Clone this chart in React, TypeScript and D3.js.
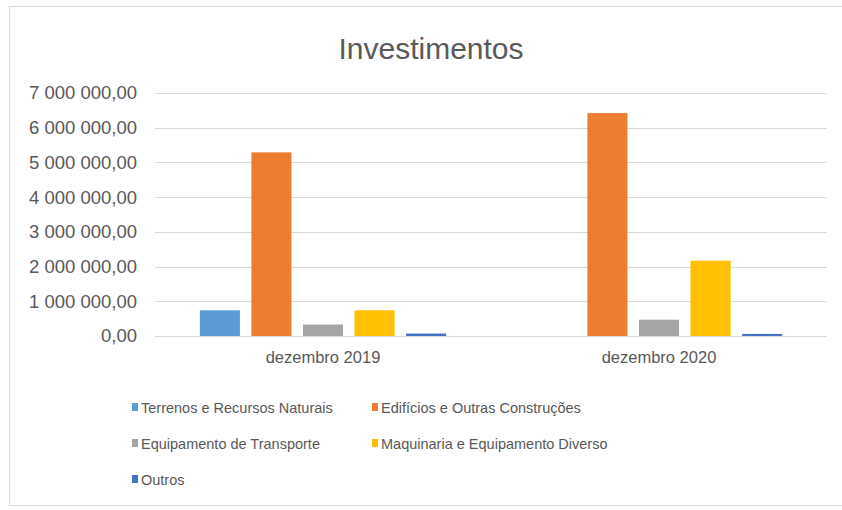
import React, { useRef, useEffect } from 'react';
import * as d3 from 'd3';

const categories = ['dezembro 2019', 'dezembro 2020'];
const seriesNames = [
  'Terrenos e Recursos Naturais',
  'Edifícios e Outras Construções',
  'Equipamento de Transporte',
  'Maquinaria e Equipamento Diverso',
  'Outros',
];
const seriesColors = ['#5B9BD5', '#ED7D31', '#A5A5A5', '#FFC000', '#4472C4'];
// values per series, one per category
const terrenos = [740000, 0];
const edificios = [5290000, 6420000];
const transporte = [330000, 470000];
const maquinaria = [740000, 2170000];
const outros = [70000, 60000];
const yTicks = [0, 1000000, 2000000, 3000000, 4000000, 5000000, 6000000, 7000000];

const FONT = '"Liberation Sans", sans-serif';

const App: React.FC = () => {
  const svgRef = useRef<SVGSVGElement | null>(null);

  useEffect(() => {
    if (!svgRef.current) return;
    const width = 842;
    const height = 510;
    const svg = d3.select(svgRef.current);
    svg.selectAll('*').remove();

    const values = [terrenos, edificios, transporte, maquinaria, outros];
    const margin = { top: 93, right: 15, bottom: 174, left: 155 };
    const innerWidth = width - margin.left - margin.right;
    const innerHeight = height - margin.top - margin.bottom;

    // frame
    svg.append('rect')
      .attr('x', 9.5).attr('y', 6.5)
      .attr('width', 840).attr('height', 499)
      .attr('fill', '#fff')
      .attr('stroke', '#D9D9D9');

    const x0 = d3.scaleBand().domain(categories).range([0, innerWidth]).padding(0);
    const x1 = d3.scaleBand()
      .domain(seriesNames)
      .range([0, x0.bandwidth()])
      .paddingInner(0.223)
      .paddingOuter(0.87);
    const y = d3.scaleLinear().domain([0, 7000000]).range([innerHeight, 0]);

    const locale = d3.formatLocale({ decimal: ',', thousands: '\u00a0', grouping: [3], currency: ['', ''] });
    const fmt = locale.format(',.2f');

    const g = svg.append('g').attr('transform', `translate(${margin.left},${margin.top})`);

    // gridlines
    g.append('g')
      .selectAll('line')
      .data(yTicks)
      .enter()
      .append('line')
      .attr('x1', 0)
      .attr('x2', innerWidth)
      .attr('y1', d => Math.round(y(d)) + 0.5)
      .attr('y2', d => Math.round(y(d)) + 0.5)
      .attr('stroke', '#D9D9D9')
      .attr('stroke-width', 1);

    // y labels
    g.append('g')
      .selectAll('text')
      .data(yTicks)
      .enter()
      .append('text')
      .attr('x', -18)
      .attr('y', d => y(d))
      .attr('dy', '0.35em')
      .attr('text-anchor', 'end')
      .attr('font-family', FONT)
      .attr('font-size', 18.5)
      .attr('fill', '#595959')
      .text(d => fmt(d));

    // bars
    const groups = g.selectAll('.cat')
      .data(categories)
      .enter()
      .append('g')
      .attr('class', 'cat')
      .attr('transform', d => `translate(${x0(d)},0)`);

    groups.selectAll('rect')
      .data((_, i) => seriesNames.map((s, k) => ({ s, k, v: values[k][i] })))
      .enter()
      .append('rect')
      .attr('x', d => x1(d.s) || 0)
      .attr('width', x1.bandwidth())
      .attr('y', d => y(d.v))
      .attr('height', d => innerHeight - y(d.v))
      .attr('fill', d => seriesColors[d.k]);

    // category labels
    g.append('g')
      .selectAll('text')
      .data(categories)
      .enter()
      .append('text')
      .attr('x', d => (x0(d) || 0) + x0.bandwidth() / 2)
      .attr('y', innerHeight + 27)
      .attr('text-anchor', 'middle')
      .attr('font-family', FONT)
      .attr('font-size', 16.5)
      .attr('fill', '#595959')
      .text(d => d);

    // title
    svg.append('text')
      .attr('x', 431)
      .attr('y', 59)
      .attr('text-anchor', 'middle')
      .attr('font-family', FONT)
      .attr('font-size', 30)
      .attr('fill', '#595959')
      .text('Investimentos');

    // legend
    const legendX = [132, 372];
    const legendY = [408, 444, 480];
    const legend = svg.append('g')
      .selectAll('g')
      .data(seriesNames)
      .enter()
      .append('g')
      .attr('transform', (_, i) => `translate(${legendX[i % 2]},${legendY[Math.floor(i / 2)]})`);
    legend.append('rect')
      .attr('x', 0).attr('y', -5)
      .attr('width', 6).attr('height', 8)
      .attr('fill', (_, i) => seriesColors[i]);
    legend.append('text')
      .attr('x', 9)
      .attr('y', 0)
      .attr('dy', '0.35em')
      .attr('font-family', FONT)
      .attr('font-size', 14.5)
      .attr('fill', '#595959')
      .text(d => d);
  }, []);

  return (
    <div style={{ position: 'absolute', left: 0, top: 0 }}>
      <svg ref={svgRef} width={842} height={510}></svg>
    </div>
  );
};

export default App;
